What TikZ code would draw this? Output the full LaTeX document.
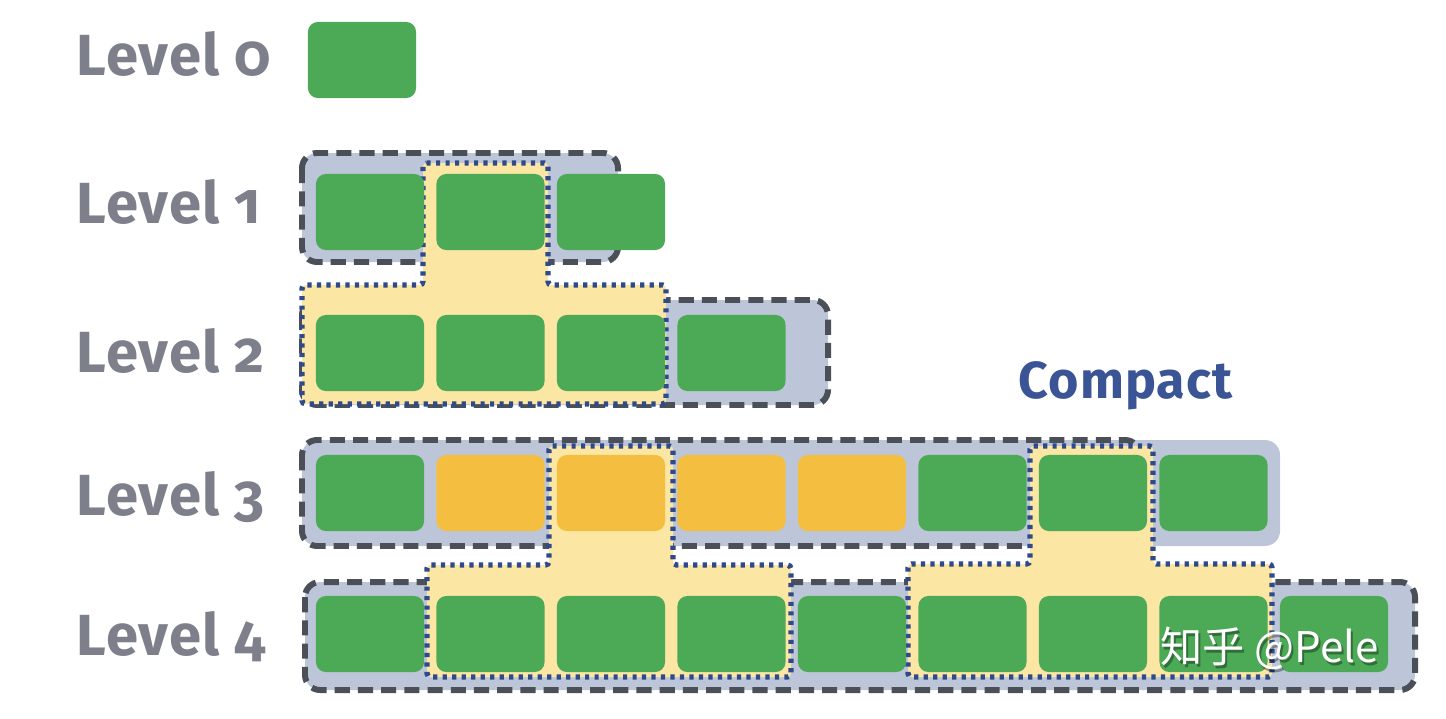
\documentclass[tikz,border=0pt]{standalone}
\usepackage{fontspec}
\setmainfont{Fira Sans}[Numbers=OldStyle, LetterSpace=2]
\newfontfamily\cjkfont{Noto Sans CJK SC}
\usepackage{xcolor}

\definecolor{cellgreen}{HTML}{4CAA57}
\definecolor{cellorange}{HTML}{F4BF41}
\definecolor{runfill}{HTML}{BCC6D8}
\definecolor{runline}{HTML}{4B5058}
\definecolor{mergefill}{HTML}{FBE6A3}
\definecolor{mergeline}{HTML}{2E4A8A}
\definecolor{labelgrey}{HTML}{7D808B}
\definecolor{compactblue}{HTML}{3A5495}

\begin{document}
\begin{tikzpicture}[x=0.01cm, y=-0.01cm,
  cell/.style={rectangle, rounded corners=2.8pt, minimum width=1.08cm,
    minimum height=0.76cm, inner sep=0pt, fill=cellgreen},
  hot/.style={cell, fill=cellorange},
  run/.style={fill=runfill, rounded corners=4.3pt},
  runline/.style={draw=runline, line width=1.7pt,
    dash pattern=on 4.3pt off 2.3pt, rounded corners=4.3pt},
  merge/.style={fill=mergefill, draw=mergeline, line width=1.5pt,
    dash pattern=on 1.2pt off 1.5pt, rounded corners=1pt},
  level/.style={anchor=base west, inner sep=0pt, text=labelgrey,
    font=\bfseries\fontsize{16.5}{18}\selectfont}]
  \useasboundingbox (0,0) rectangle (1446,718);

  % Runs (grey boxes with dashed borders)
  \fill[run] (302,153) rectangle (618,262);
  \draw[runline] (302,153) rectangle (618,262);
  \fill[run] (302,300) rectangle (828,405);
  \draw[runline] (302,300) rectangle (828,405);
  \fill[run] (302,440) rectangle (1280,546);
  \draw[runline] (302,440) rectangle (1140,546);
  \fill[run] (305,582) rectangle (1415,690);
  \draw[runline] (305,582) rectangle (1415,690);

  % Merged regions (yellow, dotted)
  \filldraw[merge] (423,163) -- (548,163) -- (548,285) -- (666,285) -- (666,404)
    -- (302,404) -- (302,285) -- (423,285) -- cycle;
  \filldraw[merge] (549,446) -- (673,446) -- (673,565) -- (791,565) -- (791,677)
    -- (427,677) -- (427,565) -- (549,565) -- cycle;
  \filldraw[merge] (1030,446) -- (1153,446) -- (1153,564) -- (1272,564) -- (1272,677)
    -- (908,677) -- (908,564) -- (1030,564) -- cycle;

  % Cells
  \node[cell] (l0-1) at (362,60) {};
  \foreach \i in {1,...,3}
    \node[cell] (l1-\i) at ({370+120.5*(\i-1)},212) {};
  \foreach \i in {1,...,4}
    \node[cell] (l2-\i) at ({370+120.5*(\i-1)},353) {};
  \foreach \i/\s in {1/cell,2/hot,3/hot,4/hot,5/hot,6/cell,7/cell,8/cell}
    \node[\s] (l3-\i) at ({370+120.5*(\i-1)},493) {};
  \foreach \i in {1,...,9}
    \node[cell] (l4-\i) at ({370+120.5*(\i-1)},634) {};

  % Labels
  \node[level] (lab0) at (76,75) {Level 0};
  \node[level] (lab1) at (76,223) {Level 1};
  \node[level] (lab2) at (76,372) {Level 2};
  \node[level] (lab3) at (76,515) {Level 3};
  \node[level] (lab4) at (76,655) {Level 4};

  \node[anchor=base west, inner sep=0pt, text=compactblue,
    font=\bfseries\fontsize{14.8}{16}\selectfont] (compact) at (1018,398) {Compact};

  % Watermark
  \node[anchor=base west, inner sep=0pt, text=black, opacity=0.35,
    font=\cjkfont\fontsize{12}{14}\selectfont] (wmshadow) at (1162,665) {知乎 @Pele};
  \node[anchor=base west, inner sep=0pt, text=white,
    font=\cjkfont\fontsize{12}{14}\selectfont] (wm) at (1160,662) {知乎 @Pele};
\end{tikzpicture}
\end{document}
